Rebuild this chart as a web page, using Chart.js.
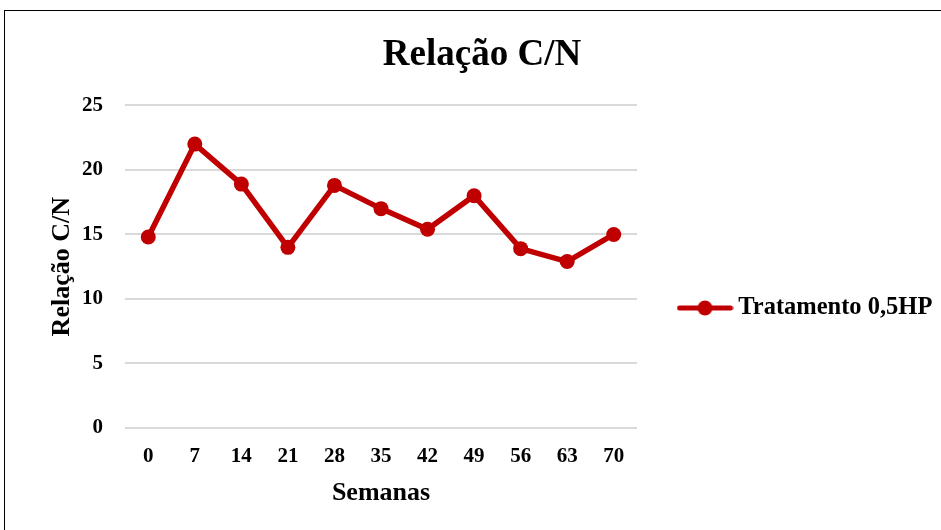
<!DOCTYPE html>
<html>
<head>
<meta charset="utf-8">
<script src="https://cdn.jsdelivr.net/npm/chart.js@4"></script>
<style>
  html, body { margin: 0; padding: 0; background: #fff; overflow: hidden; }
  #wrap { position: relative; width: 941px; height: 530px; }
  #frame { position: absolute; left: 4px; top: 10px; width: 1000px; height: 600px; border: 1px solid #000; }
  canvas { position: absolute; left: 0; top: 0; }
</style>
</head>
<body>
<div id="wrap">
  <div id="frame"></div>
  <canvas id="cnChart" width="941" height="530"></canvas>
</div>
<script>
const semanas = ['0', '7', '14', '21', '28', '35', '42', '49', '56', '63', '70'];
const relacaoCN = [14.8, 22.0, 18.9, 14.0, 18.8, 17.0, 15.4, 18.0, 13.9, 12.9, 15.0];
const serieNome = 'Tratamento 0,5HP';
const yTicks = [0, 5, 10, 15, 20, 25];

const RED = '#c00000';
const FONT = "'Liberation Serif', 'Times New Roman', serif";

// little line-with-dot marker for the legend
const marker = document.createElement('canvas');
marker.width = 57;
marker.height = 16;
const mctx = marker.getContext('2d');
mctx.strokeStyle = RED;
mctx.lineWidth = 5;
mctx.lineCap = 'round';
mctx.beginPath();
mctx.moveTo(3, 8);
mctx.lineTo(54, 8);
mctx.stroke();
mctx.fillStyle = RED;
mctx.beginPath();
mctx.arc(28.5, 8, 7.5, 0, Math.PI * 2);
mctx.fill();

// put title and legend where Excel put them
const placeBoxes = {
    id: 'placeBoxes',
    afterLayout(chart) {
        const t = chart.titleBlock;
        if (t) {
            const dx = 482 - (t.left + t.right) / 2;
            t.left += dx; t.right += dx;
        }
        const l = chart.legend;
        if (l) {
            const h = l.bottom - l.top;
            l.left = 674; l.right = 941;
            l.top = 308 - h / 2; l.bottom = 308 + h / 2;
            l.width = l.right - l.left;
        }
    }
};

Chart.defaults.color = '#000';
Chart.defaults.font.family = FONT;
Chart.defaults.font.weight = 'bold';

new Chart(document.getElementById('cnChart').getContext('2d'), {
    type: 'line',
    data: {
        labels: semanas,
        datasets: [{
            label: serieNome,
            data: relacaoCN,
            borderColor: RED,
            backgroundColor: RED,
            borderWidth: 5.5,
            pointRadius: 7.5,
            pointHoverRadius: 7.5,
            pointBorderWidth: 0,
            pointBackgroundColor: RED,
            tension: 0
        }]
    },
    options: {
        responsive: false,
        animation: false,
        layout: { padding: { left: 24, right: 304, top: 10, bottom: 21 } },
        plugins: {
            title: {
                display: true,
                text: 'Relação C/N',
                font: { size: 37, weight: 'bold', family: FONT },
                color: '#000',
                padding: { top: 23, bottom: 28 }
            },
            legend: {
                display: true,
                position: 'chartArea',
                labels: {
                    usePointStyle: true,
                    pointStyleWidth: 42,
                    font: { size: 24.5, weight: 'bold', family: FONT },
                    color: '#000',
                    generateLabels: function(chart) {
                        return chart.data.datasets.map((ds, i) => ({
                            text: ds.label,
                            pointStyle: marker,
                            fillStyle: RED,
                            strokeStyle: RED,
                            lineWidth: 0,
                            datasetIndex: i,
                            hidden: false
                        }));
                    }
                }
            },
            tooltip: { enabled: false }
        },
        scales: {
            x: {
                offset: true,
                grid: { display: false, drawTicks: false },
                border: { display: false },
                ticks: { padding: 16, font: { size: 21, weight: 'bold' }, color: '#000' },
                title: {
                    display: true,
                    text: 'Semanas',
                    font: { size: 26, weight: 'bold' },
                    color: '#000',
                    padding: { top: 0, bottom: 0 }
                },
                afterFit: function(axis) { axis.height = 81; }
            },
            y: {
                min: 0,
                max: 25,
                afterBuildTicks: function(axis) {
                    axis.ticks = yTicks.map(v => ({ value: v }));
                },
                grid: { color: '#d9d9d9', lineWidth: 2, drawTicks: false },
                border: { display: false },
                ticks: { padding: 22, font: { size: 21, weight: 'bold' }, color: '#000' },
                title: {
                    display: true,
                    text: 'Relação C/N',
                    font: { size: 26, weight: 'bold' },
                    color: '#000',
                    padding: { top: 23, bottom: 0 }
                },
                afterFit: function(axis) { axis.width = 101; }
            }
        }
    },
    plugins: [placeBoxes]
});
</script>
</body>
</html>
